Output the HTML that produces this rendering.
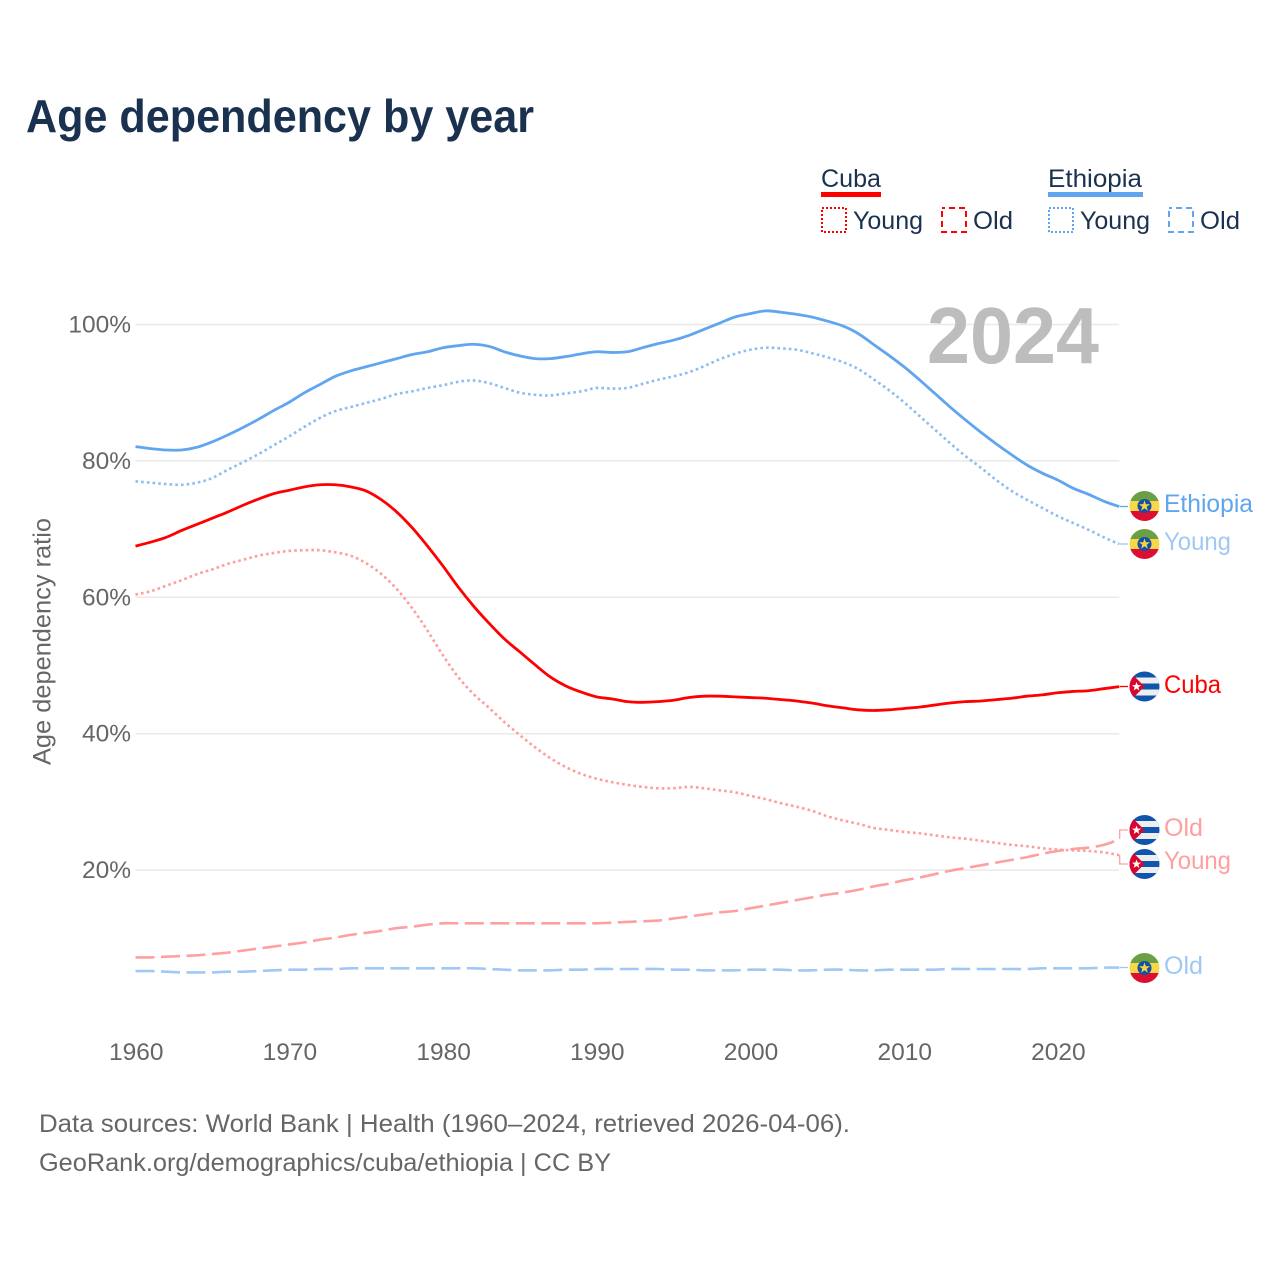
<!DOCTYPE html>
<html lang="en">
<head>
<meta charset="utf-8">
<title>Age dependency by year</title>
<style>
html,body{margin:0;padding:0;background:#fff;width:1280px;height:1280px;overflow:hidden}
svg{display:block}
text{font-family:"Liberation Sans",sans-serif}
.navy{fill:#1a3250}
.gray{fill:#666}
.tick{font-size:24.5px;fill:#666}
.lg{font-size:25px}
</style>
</head>
<body>
<svg id="chart" xmlns="http://www.w3.org/2000/svg" width="1280" height="1280" viewBox="0 0 1280 1280">
  <defs>
    <clipPath id="flag-clip"><circle cx="0" cy="0" r="15"/></clipPath>
    <g id="flag-ethiopia" clip-path="url(#flag-clip)">
      <rect x="-15" y="-15" width="30" height="10" fill="#6a9f45"/>
      <rect x="-15" y="-5" width="30" height="10" fill="#f7d84a"/>
      <rect x="-15" y="5" width="30" height="10" fill="#dc0f32"/>
      <circle r="7" fill="#1450a8"/>
      <polygon points="0,-5.8 1.3,-1.8 5.5,-1.8 2.1,0.7 3.4,4.7 0,2.2 -3.4,4.7 -2.1,0.7 -5.5,-1.8 -1.3,-1.8" fill="#f5d63d"/>
    </g>
    <g id="flag-cuba" clip-path="url(#flag-clip)">
      <rect x="-15" y="-15" width="30" height="30" fill="#0f55ad"/>
      <rect x="-15" y="-9" width="30" height="6" fill="#eeeeee"/>
      <rect x="-15" y="3" width="30" height="6" fill="#eeeeee"/>
      <polygon points="-15,-15 -15,15 0,0" fill="#d8062f"/>
      <polygon points="-8,-4.5 -6.8,-1.4 -3.5,-1.4 -6.1,0.7 -5.2,4 -8,2 -10.8,4 -9.9,0.7 -12.5,-1.4 -9.2,-1.4" fill="#fff"/>
    </g>
  </defs>

  <text class="navy" x="26" y="132" font-size="46" font-weight="700" textLength="508" lengthAdjust="spacingAndGlyphs">Age dependency by year</text>

  <g id="grid"></g>
  <g id="ticks"></g>

  <text class="gray" transform="translate(50.5,765) rotate(-90)" font-size="25" textLength="247" lengthAdjust="spacingAndGlyphs">Age dependency ratio</text>

  <text x="927" y="363" font-size="80" font-weight="700" fill="#bdbdbd" textLength="172" lengthAdjust="spacingAndGlyphs">2024</text>

  <g id="series"></g>

  <g fill="none" stroke-width="1.3">
    <path d="M1119.7 506.5H1128" stroke="#60a5ef"/>
    <path d="M1119.7 544H1128" stroke="#9cc6f3"/>
    <path d="M1119.7 686.5H1128" stroke="#ff0000"/>
    <path d="M1119.7 839V830H1128" stroke="#ffa0a0"/>
    <path d="M1119.7 855V864H1128" stroke="#ffa0a0"/>
    <path d="M1119.7 967.5H1128" stroke="#a0c8f4"/>
  </g>

  <use href="#flag-ethiopia" x="1144.5" y="506"/>
  <use href="#flag-ethiopia" x="1144.5" y="544"/>
  <use href="#flag-cuba" x="1144.5" y="686.5"/>
  <use href="#flag-cuba" x="1144.5" y="830"/>
  <use href="#flag-cuba" x="1144.5" y="864"/>
  <use href="#flag-ethiopia" x="1144.5" y="968"/>

  <text x="1164" y="512" font-size="25" fill="#60a5ef" textLength="89" lengthAdjust="spacingAndGlyphs">Ethiopia</text>
  <text x="1164" y="550" font-size="25" fill="#a0c8f4" textLength="67" lengthAdjust="spacingAndGlyphs">Young</text>
  <text x="1164" y="693" font-size="25" fill="#ff0000" textLength="57" lengthAdjust="spacingAndGlyphs">Cuba</text>
  <text x="1164" y="836" font-size="25" fill="#ffa0a0" textLength="39" lengthAdjust="spacingAndGlyphs">Old</text>
  <text x="1164" y="869" font-size="25" fill="#ffa0a0" textLength="67" lengthAdjust="spacingAndGlyphs">Young</text>
  <text x="1164" y="974" font-size="25" fill="#a0c8f4" textLength="39" lengthAdjust="spacingAndGlyphs">Old</text>

  <g>
    <text class="navy lg" x="821" y="187" textLength="60" lengthAdjust="spacingAndGlyphs">Cuba</text>
    <rect x="821" y="192" width="60" height="5" fill="#ff0000"/>
    <rect x="822" y="208" width="24" height="24" fill="none" stroke="#ff0000" stroke-width="2" stroke-dasharray="2 2"/>
    <text class="navy lg" x="853" y="229" textLength="70" lengthAdjust="spacingAndGlyphs">Young</text>
    <rect x="942" y="208" width="24" height="24" fill="none" stroke="#ff0000" stroke-width="2" stroke-dasharray="6 4" stroke-dashoffset="3"/>
    <text class="navy lg" x="973" y="229" textLength="40" lengthAdjust="spacingAndGlyphs">Old</text>

    <text class="navy lg" x="1048" y="187" textLength="94" lengthAdjust="spacingAndGlyphs">Ethiopia</text>
    <rect x="1048" y="192" width="95" height="5" fill="#60a5ef"/>
    <rect x="1049" y="208" width="24" height="24" fill="none" stroke="#60a5ef" stroke-width="2" stroke-dasharray="2 2"/>
    <text class="navy lg" x="1080" y="229" textLength="70" lengthAdjust="spacingAndGlyphs">Young</text>
    <rect x="1169" y="208" width="24" height="24" fill="none" stroke="#60a5ef" stroke-width="2" stroke-dasharray="6 4" stroke-dashoffset="3"/>
    <text class="navy lg" x="1200" y="229" textLength="40" lengthAdjust="spacingAndGlyphs">Old</text>
  </g>

  <text class="gray" x="39" y="1132" font-size="25" textLength="811" lengthAdjust="spacingAndGlyphs">Data sources: World Bank | Health (1960–2024, retrieved 2026-04-06).</text>
  <text class="gray" x="39" y="1171" font-size="25" textLength="572" lengthAdjust="spacingAndGlyphs">GeoRank.org/demographics/cuba/ethiopia | CC BY</text>
</svg>

<script>
const firstYear = 1960;
const xTickYears = [1960, 1970, 1980, 1990, 2000, 2010, 2020];
const yTickValues = [20, 40, 60, 80, 100];

const ethiopiaTotal = [82.1,81.8,81.6,81.6,82.0,82.8,83.8,84.9,86.1,87.4,
  88.6,90.0,91.2,92.4,93.2,93.8,94.4,95.0,95.6,96.0,
  96.6,96.9,97.1,96.8,96.0,95.4,95.0,95.0,95.3,95.7,
  96.0,95.9,96.0,96.6,97.2,97.7,98.4,99.3,100.2,101.1,
  101.6,102.0,101.8,101.5,101.1,100.5,99.8,98.7,97.1,95.5,
  93.8,91.9,89.9,87.9,86.0,84.2,82.5,80.9,79.4,78.2,
  77.2,76.0,75.1,74.1,73.3];
const ethiopiaYoung = [77.0,76.8,76.6,76.5,76.8,77.5,78.7,79.8,81.0,82.3,
  83.6,85.0,86.3,87.3,87.9,88.5,89.1,89.8,90.2,90.7,
  91.1,91.6,91.8,91.4,90.7,90.0,89.7,89.6,89.9,90.2,
  90.7,90.6,90.7,91.3,91.9,92.4,93.0,93.9,94.9,95.7,
  96.3,96.6,96.5,96.3,95.8,95.2,94.5,93.5,92.0,90.4,
  88.6,86.6,84.6,82.6,80.7,79.0,77.2,75.6,74.3,73.1,
  71.9,70.9,69.9,68.8,67.8];
const ethiopiaOld = [5.2,5.2,5.1,5.0,5.0,5.0,5.1,5.1,5.2,5.3,
  5.4,5.4,5.5,5.5,5.6,5.6,5.6,5.6,5.6,5.6,
  5.6,5.6,5.6,5.5,5.4,5.3,5.3,5.3,5.4,5.4,
  5.5,5.5,5.5,5.5,5.5,5.4,5.4,5.3,5.3,5.3,
  5.4,5.4,5.4,5.3,5.3,5.4,5.4,5.3,5.3,5.4,
  5.4,5.4,5.4,5.5,5.5,5.5,5.5,5.5,5.5,5.6,
  5.6,5.6,5.6,5.7,5.7];
const cubaTotal = [67.5,68.1,68.8,69.8,70.7,71.6,72.5,73.5,74.4,75.2,
  75.7,76.2,76.5,76.5,76.2,75.6,74.3,72.5,70.2,67.5,
  64.6,61.5,58.7,56.2,53.9,52.0,50.1,48.3,47.0,46.1,
  45.4,45.1,44.7,44.6,44.7,44.9,45.3,45.5,45.5,45.4,
  45.3,45.2,45.0,44.8,44.5,44.1,43.8,43.5,43.4,43.5,
  43.7,43.9,44.2,44.5,44.7,44.8,45.0,45.2,45.5,45.7,
  46.0,46.2,46.3,46.6,46.9];
const cubaYoung = [60.4,60.9,61.7,62.5,63.4,64.1,64.9,65.5,66.1,66.5,
  66.8,66.9,66.9,66.6,66.1,65.0,63.4,61.2,58.4,55.1,
  51.5,48.3,45.8,43.8,41.7,39.8,38.0,36.4,35.1,34.1,
  33.4,32.9,32.5,32.2,32.0,32.0,32.2,32.0,31.7,31.4,
  30.9,30.4,29.8,29.3,28.7,27.9,27.3,26.8,26.2,25.9,
  25.6,25.4,25.1,24.8,24.6,24.3,24.0,23.7,23.5,23.2,
  23.0,22.9,22.8,22.6,22.2];
const cubaOld = [7.2,7.2,7.3,7.4,7.5,7.7,7.9,8.2,8.5,8.8,
  9.1,9.4,9.8,10.1,10.5,10.8,11.1,11.5,11.7,12.0,
  12.2,12.2,12.2,12.2,12.2,12.2,12.2,12.2,12.2,12.2,
  12.2,12.3,12.4,12.5,12.6,12.9,13.2,13.5,13.8,14.0,
  14.4,14.8,15.2,15.6,16.0,16.4,16.7,17.1,17.6,18.0,
  18.5,18.9,19.4,19.9,20.3,20.7,21.1,21.5,21.9,22.4,
  22.8,23.1,23.3,23.7,24.5];

const SVGNS = 'http://www.w3.org/2000/svg';
function xScale(year) { return 135.5 + (year - 1960) * 15.37; }
function yScale(v) { return 1006.5 - v * 6.82; }

// Smooth curve through the data points (Catmull-Rom converted to cubic Bezier).
function linePath(values) {
  const pts = values.map(function (v, i) {
    return [xScale(firstYear + i), yScale(v)];
  });
  let d = 'M' + pts[0][0].toFixed(2) + ' ' + pts[0][1].toFixed(2);
  for (let i = 0; i < pts.length - 1; i++) {
    const p0 = pts[Math.max(i - 1, 0)];
    const p1 = pts[i];
    const p2 = pts[i + 1];
    const p3 = pts[Math.min(i + 2, pts.length - 1)];
    const c1x = p1[0] + (p2[0] - p0[0]) / 6;
    const c1y = p1[1] + (p2[1] - p0[1]) / 6;
    const c2x = p2[0] - (p3[0] - p1[0]) / 6;
    const c2y = p2[1] - (p3[1] - p1[1]) / 6;
    d += 'C' + c1x.toFixed(2) + ' ' + c1y.toFixed(2) + ' ' + c2x.toFixed(2) + ' ' + c2y.toFixed(2) + ' ' + p2[0].toFixed(2) + ' ' + p2[1].toFixed(2);
  }
  return d;
}

const gridLayer = document.getElementById('grid');
const tickLayer = document.getElementById('ticks');
const seriesLayer = document.getElementById('series');

yTickValues.forEach(function (v) {
  const line = document.createElementNS(SVGNS, 'line');
  
  
  line.setAttribute('x1', xScale(1960));
  line.setAttribute('x2', xScale(2024));
  line.setAttribute('y1', yScale(v));
  line.setAttribute('y2', yScale(v));
  line.setAttribute('stroke', '#e9e9e9');
  line.setAttribute('stroke-width', '1.5');
  gridLayer.appendChild(line);

  const label = document.createElementNS(SVGNS, 'text');
  
  
  label.setAttribute('class', 'tick');
  label.setAttribute('x', 131);
  label.setAttribute('y', yScale(v) + 8);
  label.setAttribute('text-anchor', 'end');
  label.textContent = v + '%';
  tickLayer.appendChild(label);
});

xTickYears.forEach(function (year) {
  const label = document.createElementNS(SVGNS, 'text');
  
  
  label.setAttribute('class', 'tick');
  label.setAttribute('x', xScale(year) + 0.7);
  label.setAttribute('y', 1060);
  label.setAttribute('text-anchor', 'middle');
  label.textContent = String(year);
  tickLayer.appendChild(label);
});

function drawSeries(name, values, color, width, dash) {
  const path = document.createElementNS(SVGNS, 'path');
  
  
  path.setAttribute('d', linePath(values));
  path.setAttribute('fill', 'none');
  path.setAttribute('stroke', color);
  path.setAttribute('stroke-width', width);
  path.setAttribute('stroke-linejoin', 'round');
  if (dash) path.setAttribute('stroke-dasharray', dash);
  seriesLayer.appendChild(path);
}

drawSeries('line-cuba-old', cubaOld, '#ffa0a0', 2.6, '19 6.5');
drawSeries('line-ethiopia-old', ethiopiaOld, '#a0c8f4', 2.6, '19 6.5');
drawSeries('line-cuba-young', cubaYoung, '#ff9c9c', 2.6, '2.6 3.1');
drawSeries('line-ethiopia-young', ethiopiaYoung, '#8cbcf1', 2.6, '2.6 3.1');
drawSeries('line-cuba-total', cubaTotal, '#ff0000', 2.8, '');
drawSeries('line-ethiopia-total', ethiopiaTotal, '#60a5ef', 2.8, '');
</script>
</body>
</html>
